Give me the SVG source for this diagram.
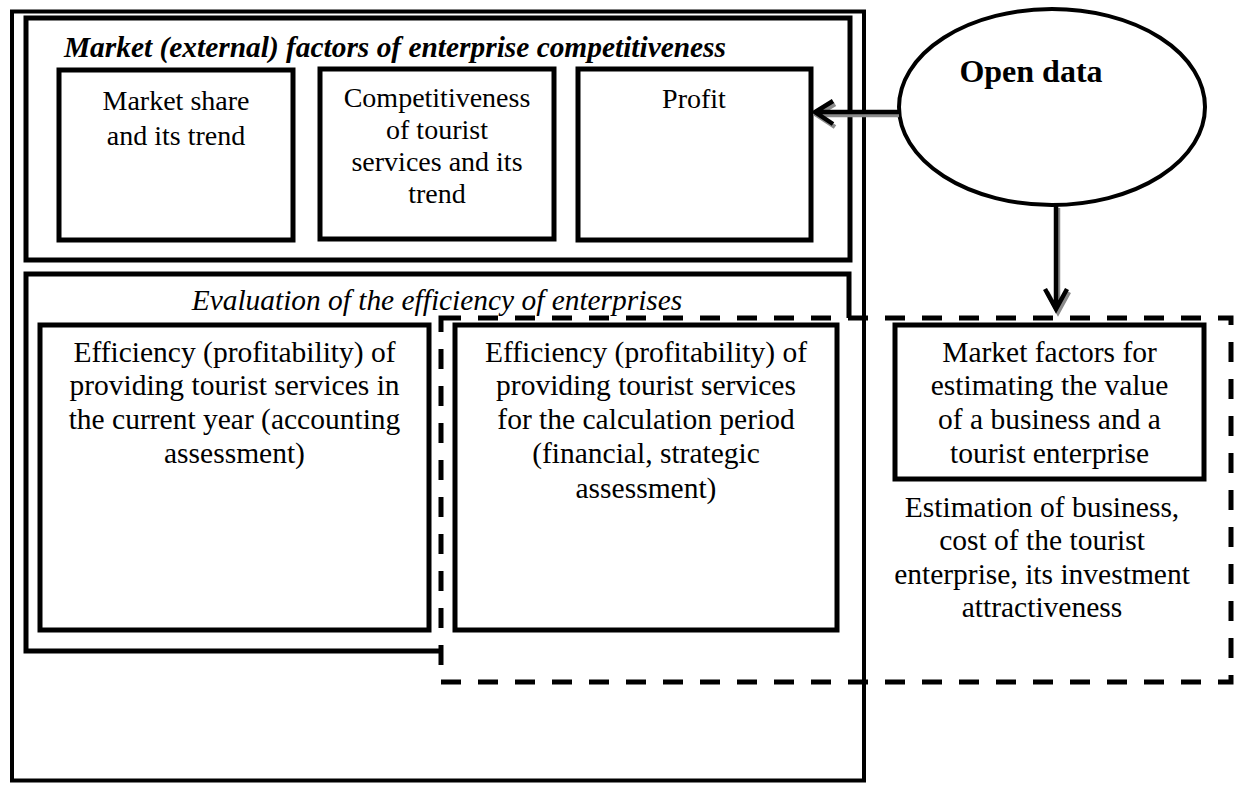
<svg xmlns="http://www.w3.org/2000/svg" width="1236" height="785" viewBox="0 0 1236 785">
<style>
.box{fill:none;stroke:#000;stroke-width:5}
.t{font-family:"Liberation Serif","Times New Roman",serif;font-size:28px;fill:#000;text-anchor:middle}
.l{font-size:29.5px}
.hd{font-style:italic;font-size:29.4px}
.b{font-weight:bold}
.conn{fill:none;stroke:#000;stroke-width:4.5}
.sh{fill:none;stroke:#8a8a8a;stroke-width:4.5}
.dash{fill:none;stroke:#000;stroke-width:5;stroke-dasharray:20 17}
</style>
<rect width="1236" height="785" fill="#fff"/>
<g id="outer"><rect x="12" y="11.5" width="852" height="769" fill="none" stroke="#000" stroke-width="4"/></g>
<g id="market-group">
<rect class="box" x="26" y="18" width="824" height="242"/>
<text class="t hd b" x="395" y="57">Market (external) factors of enterprise competitiveness</text>
</g>
<g id="market-share"><rect class="box" x="59" y="70" width="234" height="170"/>
<text class="t" x="176" y="110">Market share</text><text class="t" x="176" y="145">and its trend</text></g>
<g id="competitiveness"><rect class="box" x="320" y="69" width="234" height="170"/>
<text class="t" x="437" y="107">Competitiveness</text><text class="t" x="437" y="139">of tourist</text><text class="t" x="437" y="171">services and its</text><text class="t" x="437" y="203">trend</text></g>
<g id="profit"><rect class="box" x="578" y="69" width="233" height="171"/>
<text class="t" x="694" y="108">Profit</text></g>
<g id="evaluation-group">
<path class="box" d="M441 651 H26 V274 H849 V318"/>
<text class="t hd" x="437" y="310">Evaluation of the efficiency of enterprises</text>
</g>
<g id="business-group">
<rect class="dash" x="441" y="318" width="790" height="364"/>
<text class="t l" x="1042" y="517">Estimation of business,</text><text class="t l" x="1042" y="550">cost of the tourist</text><text class="t l" x="1042" y="584">enterprise, its investment</text><text class="t l" x="1042" y="617">attractiveness</text>
</g>
<g id="eff-current"><rect class="box" x="40" y="325" width="389" height="305"/>
<text class="t l" x="234.5" y="362">Efficiency (profitability) of</text><text class="t l" x="234.5" y="395">providing tourist services in</text><text class="t l" x="234.5" y="429">the current year (accounting</text><text class="t l" x="234.5" y="463">assessment)</text></g>
<g id="eff-period"><rect class="box" x="455" y="325" width="382" height="305"/>
<text class="t l" x="646" y="362">Efficiency (profitability) of</text><text class="t l" x="646" y="395">providing tourist services</text><text class="t l" x="646" y="429">for the calculation period</text><text class="t l" x="646" y="463">(financial, strategic</text><text class="t l" x="646" y="498">assessment)</text></g>
<g id="market-value"><rect class="box" x="895" y="325" width="309" height="154"/>
<text class="t l" x="1049.5" y="362">Market factors for</text><text class="t l" x="1049.5" y="395">estimating the value</text><text class="t l" x="1049.5" y="429">of a business and a</text><text class="t l" x="1049.5" y="463">tourist enterprise</text></g>
<g id="open-data"><ellipse cx="1052" cy="107" rx="153" ry="98" fill="#fff" stroke="#000" stroke-width="4"/>
<text class="t b" x="1031" y="82" style="font-size:32px">Open data</text></g>
<g id="connectors">
<path class="sh" d="M899 115 H817 M835 104 L817 115 L835 127"/>
<path class="conn" d="M899 112 H815 M833 101 L815 112 L833 124"/>
<path class="sh" d="M1058 208 V311 M1047 292 L1058 312 L1069 292"/>
<path class="conn" d="M1056 205 V309 M1045 289 L1056 309 L1067 289"/>
</g>
</svg>
